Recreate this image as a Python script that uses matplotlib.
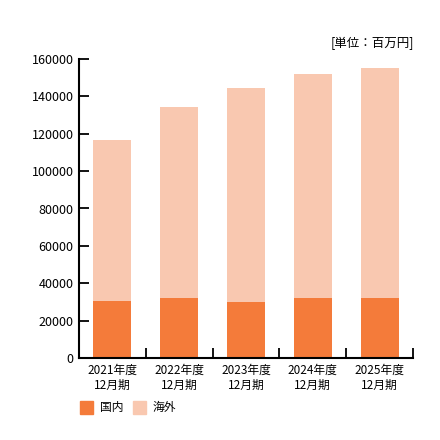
import matplotlib
matplotlib.use("Agg")
import matplotlib.pyplot as plt
import matplotlib.patches as patches
import numpy as np

plt.rcParams['font.family'] = ['Noto Sans CJK JP', 'DejaVu Sans']

# data (百万円)
years = ["2021年度\n12月期", "2022年度\n12月期", "2023年度\n12月期", "2024年度\n12月期", "2025年度\n12月期"]
domestic = [30600, 32200, 29900, 32200, 32300]
total = [116800, 134200, 144400, 151800, 155000]
overseas = [t - d for t, d in zip(total, domestic)]
yticks = [0, 20000, 40000, 60000, 80000, 100000, 120000, 140000, 160000]

c_dom = "#f47b3a"
c_ovs = "#f9c8b0"

fig = plt.figure(figsize=(4.4, 4.4), dpi=100)
ax = fig.add_axes([79/440, 1-358/440, (413-79)/440, (358-59)/440])

x = np.arange(len(years))
ax.bar(x, domestic, width=0.57, color=c_dom)
ax.bar(x, overseas, width=0.57, bottom=domestic, color=c_ovs)

ax.set_xlim(-0.5, len(years)-0.5)
ax.set_ylim(0, 160000)
ax.set_yticks(yticks)
ax.set_yticklabels([str(v) for v in yticks], fontsize=9)
ax.tick_params(axis='y', direction='in', length=7, width=1.3, pad=4)

# category labels at centers, ticks at boundaries
ax.set_xticks(x)
ax.set_xticklabels(years, fontsize=8.5, linespacing=1.25)
ax.tick_params(axis='x', which='major', length=0, pad=4)
ax.set_xticks(np.arange(len(years))+0.5, minor=True)
ax.tick_params(axis='x', which='minor', direction='in', length=7, width=1.3)

for s in ['top', 'right']:
    ax.spines[s].set_visible(False)
for s in ['left', 'bottom']:
    ax.spines[s].set_linewidth(1.5)

# legend drawn by hand at bottom
fig.patches.append(patches.Rectangle((80/440, 1-414/440), 13/440, 13/440,
                                     transform=fig.transFigure, color=c_dom))
fig.text(100/440, 1-407.5/440, "国内", fontsize=8.5, va='center')
fig.patches.append(patches.Rectangle((133/440, 1-414/440), 13/440, 13/440,
                                     transform=fig.transFigure, color=c_ovs))
fig.text(153/440, 1-407.5/440, "海外", fontsize=8.5, va='center')

fig.text(414/440, 1-43/440, "[単位：百万円]", fontsize=9, ha='right', va='center')

fig.savefig("out.png", dpi=100)
